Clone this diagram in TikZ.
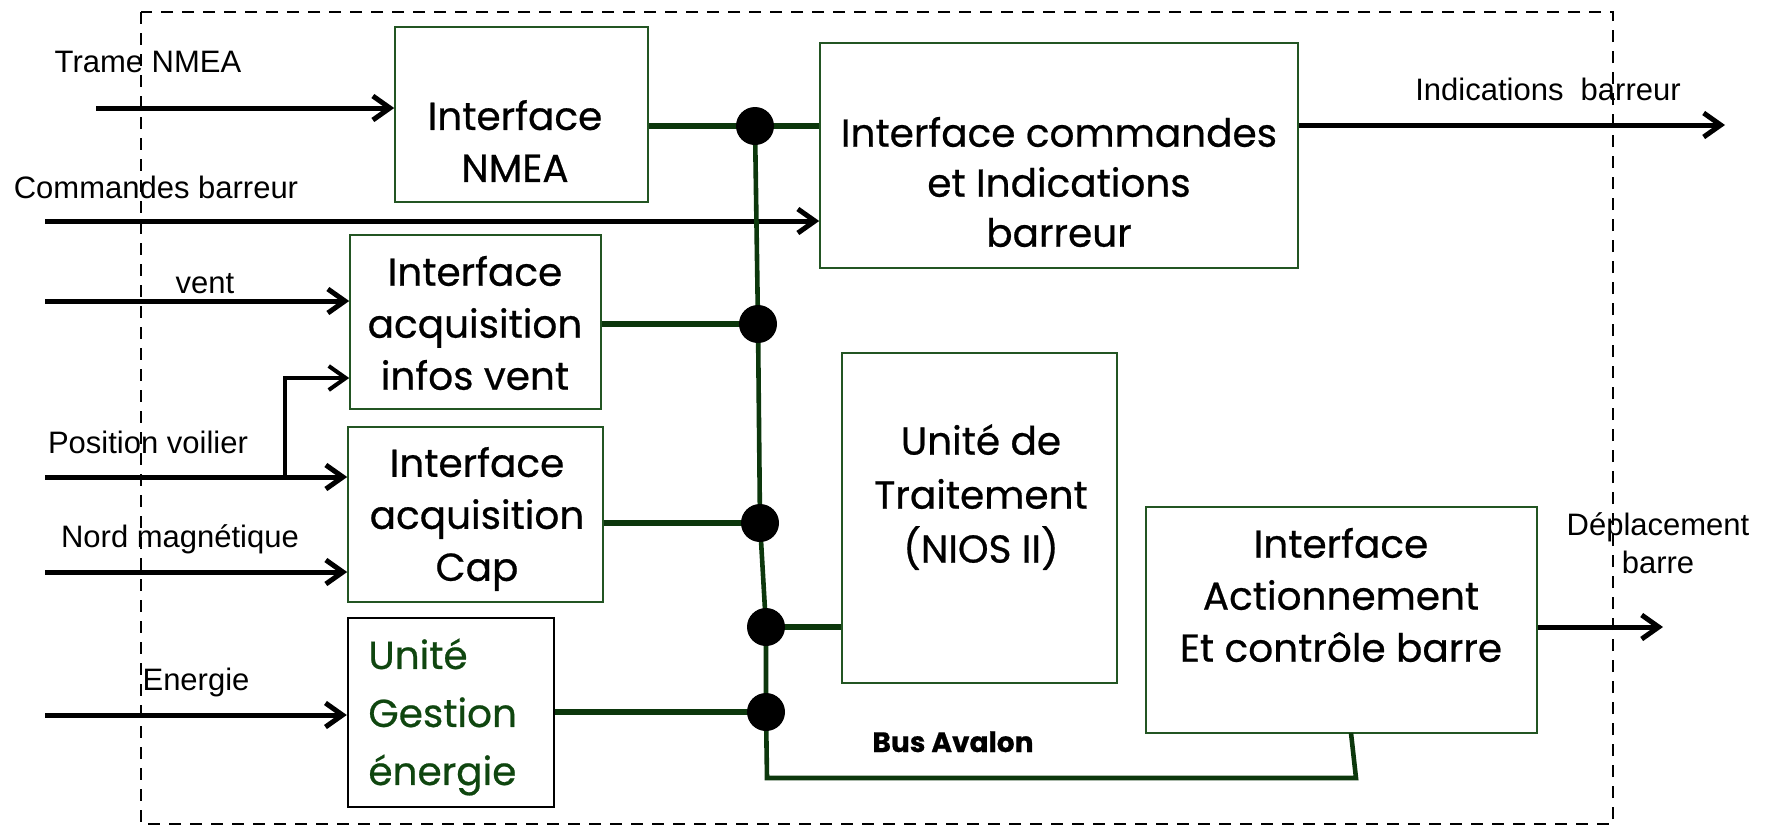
\documentclass[tikz,border=0pt]{standalone}
\usepackage{fontspec}
\setmainfont{Liberation Sans}
\newfontfamily\comicfont[FakeBold=0.6]{Poppins}
\usetikzlibrary{arrows.meta}
\definecolor{boxgreen}{RGB}{35,85,35}
\definecolor{busgreen}{RGB}{12,55,12}
\definecolor{txtgreen}{RGB}{15,70,15}

\begin{document}
\begin{tikzpicture}[x=0.5pt, y=-0.5pt,
  blk/.style={draw=boxgreen, line width=0.8pt, inner sep=0},
  txt/.style={font=\comicfont\fontsize{19.5}{26}\selectfont, align=center, inner sep=0},
  lbl/.style={font=\fontsize{15.5}{18}\selectfont, inner sep=0, anchor=base},
  sig/.style={-{Straight Barb[length=8.5pt, width=12pt]}, line width=2.5pt},
  bus/.style={draw=busgreen, line width=2.8pt},
  busdot/.style={circle, fill=black, inner sep=0, minimum size=19pt}]
\useasboundingbox (0,0) rectangle (1773,826);
\draw[dash pattern=on 6pt off 4.5pt, line width=0.8pt] (141,12) rectangle (1613,824);

% blocs
\node[blk, minimum width=126.5pt, minimum height=87.5pt] (nmea) at (521.5,114.5) {};
\node[blk, minimum width=239pt, minimum height=112.5pt] (cmd) at (1059,155.5) {};
\node[blk, minimum width=125.5pt, minimum height=87pt] (vent) at (475.5,322) {};
\node[blk, minimum width=127.5pt, minimum height=87.5pt] (cap) at (475.5,514.5) {};
\node[blk, draw=black, line width=1.2pt, minimum width=103pt, minimum height=94.5pt] (energie) at (451,712.5) {};
\node[blk, minimum width=137.5pt, minimum height=165pt] (nios) at (979.5,518) {};
\node[blk, minimum width=195.5pt, minimum height=113pt] (act) at (1341.5,620) {};

\node[txt] (nmeaT) at (515,141) {Interface\\NMEA};
\node[txt, font=\comicfont\fontsize{19.5}{25}\selectfont] (cmdT) at (1059,182) {Interface commandes\\et Indications\\barreur};
\node[txt] (ventT) at (475,323) {Interface\\acquisition\\infos vent};
\node[txt] (capT) at (477,519) {Interface\\acquisition\\Cap};
\node[txt, font=\comicfont\fontsize{19.5}{29}\selectfont, align=left, anchor=west, text=txtgreen] (energieT) at (368,717) {Unité\\Gestion\\énergie};
\node[txt, font=\comicfont\fontsize{19.5}{27}\selectfont] (niosT) at (981,497) {Unité de\\Traitement\\(NIOS II)};
\node[txt] (actT) at (1341,595) {Interface\\Actionnement\\Et contrôle barre};
\node[txt, font=\comicfont\bfseries\fontsize{14}{16}\selectfont, anchor=base] (busT) at (953,752) {Bus Avalon};

% signaux externes
\node[lbl] (trameL) at (148,72) {Trame NMEA};
\node[lbl] (cmdL) at (156,198) {Commandes barreur};
\node[lbl] (ventL) at (205,293) {vent};
\node[lbl] (posL) at (148,453) {Position voilier};
\node[lbl] (nordL) at (180,547) {Nord magnétique};
\node[lbl] (energieL) at (196,690) {Energie};
\node[lbl] (indL) at (1548,100) {Indications\ \ barreur};
\node[lbl, anchor=center, align=center, font=\fontsize{15.5}{19}\selectfont] (depL) at (1658,543) {Déplacement\\barre};

\coordinate (trameIn) at (96,108);
\coordinate (cmdIn) at (45,221);
\coordinate (ventIn) at (45,301);
\coordinate (posIn) at (45,477);
\coordinate (posBr) at (285,477);
\coordinate (nordIn) at (45,572);
\coordinate (energieIn) at (45,715);
\coordinate (indOut) at (1725,125);
\coordinate (depOut) at (1663,627);

\draw[sig] (trameIn) -- (trameIn -| nmea.west);
\draw[sig] (cmdIn) -- (cmdIn -| cmd.west);
\draw[sig] (ventIn) -- (ventIn -| vent.west);
\draw[sig] (posIn) -- (posIn -| cap.west);
\draw[sig, line width=2pt] (posBr) -- (285,378) -- (vent.west |- 0,378);
\draw[sig] (nordIn) -- (nordIn -| cap.west);
\draw[sig] (energieIn) -- (energieIn -| energie.west);
\draw[sig] (cmd.east |- indOut) -- (indOut);
\draw[sig] (act.east |- depOut) -- (depOut);

% bus Avalon
\coordinate (d1c) at (755,126);
\coordinate (d2c) at (758,324);
\coordinate (d3c) at (760,523);
\coordinate (d4c) at (766,627);
\coordinate (d5c) at (766,712);
\coordinate (busA) at (767,778);
\coordinate (busB) at (1356,778);
\draw[bus, line width=2.3pt] (d1c) -- (d2c) -- (d3c) -- (d4c) -- (d5c) -- (busA) -- (busB) -- (1351,733);
\draw[bus] (nmea.east |- d1c) -- (d1c) -- (cmd.west |- d1c);
\draw[bus] (vent.east |- d2c) -- (d2c);
\draw[bus] (cap.east |- d3c) -- (d3c);
\draw[bus] (d4c) -- (nios.west |- d4c);
\draw[bus] (energie.east |- d5c) -- (d5c);
\node[busdot] (d1) at (d1c) {};
\node[busdot] (d2) at (d2c) {};
\node[busdot] (d3) at (d3c) {};
\node[busdot] (d4) at (d4c) {};
\node[busdot] (d5) at (d5c) {};
\end{tikzpicture}
\end{document}
